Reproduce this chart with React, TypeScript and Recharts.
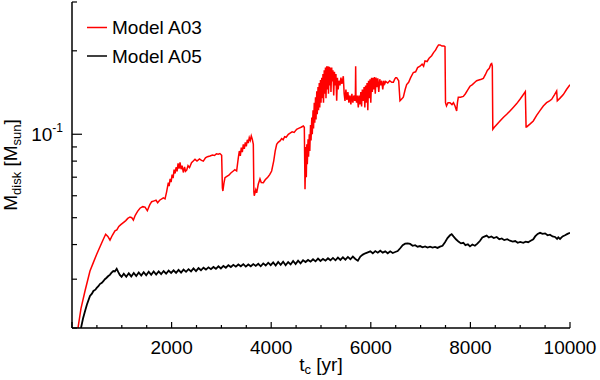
import React from 'react';
import { LineChart, Line, XAxis, YAxis } from 'recharts';

// disk mass vs time, pairs of [t_c (yr), M_disk (M_sun)]
const modelA03: [number, number][] = [
  [120, 0.020], [180, 0.0235], [261, 0.0272], [361, 0.0321], [430, 0.0345], [496, 0.0369],
  [560, 0.0392], [629, 0.0418], [676, 0.0436], [720, 0.0428], [763, 0.0415], [810, 0.0432],
  [863, 0.0448], [900, 0.0452], [940, 0.0465], [980, 0.0472], [1031, 0.048], [1080, 0.0488],
  [1120, 0.0497], [1165, 0.0503], [1200, 0.05], [1232, 0.049], [1270, 0.051], [1320, 0.0528],
  [1365, 0.0541], [1420, 0.0548], [1466, 0.0546], [1513, 0.053], [1560, 0.0556], [1600, 0.0571],
  [1650, 0.0575], [1687, 0.0578], [1720, 0.0566], [1760, 0.0578], [1834, 0.059], [1868, 0.0585],
  [1900, 0.062], [1934, 0.0669], [1950, 0.065], [1970, 0.069], [1990, 0.0672], [2010, 0.0715],
  [2030, 0.0695], [2050, 0.0745], [2070, 0.0722], [2090, 0.076], [2110, 0.0735], [2130, 0.0785],
  [2150, 0.0752], [2169, 0.0792], [2190, 0.0748], [2210, 0.077], [2236, 0.0728], [2260, 0.0762],
  [2280, 0.0735], [2303, 0.0742], [2330, 0.077], [2360, 0.0758], [2400, 0.079], [2440, 0.0802],
  [2470, 0.0812], [2510, 0.08], [2560, 0.0815], [2600, 0.0805], [2637, 0.08], [2680, 0.0822],
  [2720, 0.083], [2771, 0.0835], [2820, 0.0842], [2860, 0.0838], [2900, 0.085], [2938, 0.0847],
  [2970, 0.0852], [3005, 0.084], [3020, 0.064], [3030, 0.0624], [3050, 0.0665], [3072, 0.0697],
  [3110, 0.0705], [3150, 0.0712], [3190, 0.0725], [3239, 0.0737], [3270, 0.0745], [3306, 0.0737],
  [3340, 0.0823], [3360, 0.087], [3380, 0.0835], [3400, 0.0895], [3420, 0.0862], [3440, 0.092],
  [3460, 0.0885], [3480, 0.0935], [3500, 0.0905], [3520, 0.0955], [3540, 0.093], [3560, 0.0972],
  [3580, 0.095], [3600, 0.0986], [3620, 0.096], [3641, 0.092], [3652, 0.062], [3660, 0.06],
  [3690, 0.063], [3708, 0.0615], [3740, 0.066], [3775, 0.069], [3800, 0.067], [3842, 0.0669],
  [3880, 0.0685], [3930, 0.07], [3970, 0.0715], [4009, 0.0737], [4050, 0.08], [4080, 0.087],
  [4110, 0.092], [4140, 0.0935], [4177, 0.0946], [4210, 0.0965], [4240, 0.0955], [4270, 0.098],
  [4300, 0.0975], [4344, 0.1], [4380, 0.101], [4420, 0.102], [4460, 0.1015], [4511, 0.1042],
  [4560, 0.1052], [4600, 0.106], [4645, 0.1071], [4665, 0.106], [4679, 0.0633], [4695, 0.09],
  [4705, 0.07], [4715, 0.092], [4725, 0.078], [4740, 0.096], [4750, 0.083], [4765, 0.1],
  [4775, 0.087], [4790, 0.108], [4800, 0.095], [4815, 0.115], [4825, 0.1], [4840, 0.122],
  [4850, 0.105], [4865, 0.13], [4875, 0.11], [4890, 0.136], [4900, 0.113], [4915, 0.143],
  [4925, 0.118], [4940, 0.148], [4950, 0.122], [4965, 0.153], [4975, 0.125], [4990, 0.157],
  [5000, 0.13], [5015, 0.16], [5025, 0.135], [5040, 0.165], [5050, 0.13], [5065, 0.17],
  [5075, 0.14], [5090, 0.174], [5100, 0.135], [5115, 0.176], [5125, 0.145], [5140, 0.176],
  [5150, 0.14], [5165, 0.175], [5175, 0.15], [5190, 0.174], [5200, 0.142], [5215, 0.174],
  [5225, 0.155], [5240, 0.17], [5255, 0.138], [5270, 0.168], [5285, 0.15], [5300, 0.165],
  [5315, 0.132], [5330, 0.16], [5345, 0.145], [5360, 0.156], [5381, 0.15], [5400, 0.16],
  [5420, 0.152], [5448, 0.162], [5465, 0.14], [5482, 0.132], [5500, 0.145], [5520, 0.133],
  [5540, 0.142], [5560, 0.13], [5582, 0.138], [5600, 0.128], [5620, 0.14], [5640, 0.13],
  [5660, 0.138], [5680, 0.132], [5690, 0.135], [5696, 0.176], [5702, 0.135], [5715, 0.13],
  [5730, 0.138], [5749, 0.125], [5765, 0.138], [5780, 0.128], [5800, 0.142], [5815, 0.126],
  [5830, 0.145], [5850, 0.132], [5865, 0.148], [5880, 0.125], [5895, 0.15], [5910, 0.13],
  [5925, 0.153], [5940, 0.122], [5955, 0.156], [5970, 0.135], [5985, 0.158], [6000, 0.13],
  [6015, 0.16], [6030, 0.142], [6045, 0.16], [6060, 0.145], [6075, 0.161], [6090, 0.14],
  [6105, 0.16], [6120, 0.148], [6140, 0.159], [6160, 0.142], [6180, 0.158], [6200, 0.15],
  [6220, 0.156], [6240, 0.145], [6260, 0.156], [6280, 0.152], [6300, 0.155], [6340, 0.153],
  [6380, 0.156], [6420, 0.154], [6453, 0.154], [6480, 0.158], [6500, 0.16], [6520, 0.16],
  [6560, 0.156], [6586, 0.132], [6620, 0.134], [6653, 0.136], [6690, 0.145], [6720, 0.151],
  [6760, 0.154], [6800, 0.16], [6854, 0.167], [6900, 0.168], [6940, 0.174], [6988, 0.176],
  [7030, 0.179], [7060, 0.176], [7088, 0.184], [7130, 0.183], [7170, 0.188], [7222, 0.192],
  [7260, 0.197], [7300, 0.201], [7323, 0.205], [7360, 0.21], [7390, 0.21], [7430, 0.208],
  [7470, 0.208], [7490, 0.207], [7500, 0.13], [7520, 0.1265], [7550, 0.13], [7590, 0.13],
  [7630, 0.128], [7660, 0.13], [7691, 0.1265], [7724, 0.1214], [7740, 0.13], [7757, 0.136],
  [7800, 0.136], [7858, 0.137], [7900, 0.14], [7950, 0.145], [7992, 0.149], [8040, 0.151],
  [8090, 0.154], [8126, 0.156], [8170, 0.157], [8220, 0.158], [8260, 0.159], [8300, 0.164],
  [8340, 0.17], [8380, 0.173], [8410, 0.179], [8427, 0.18], [8440, 0.176], [8450, 0.1042],
  [8480, 0.106], [8540, 0.109], [8594, 0.1117], [8660, 0.115], [8730, 0.118], [8795, 0.1214],
  [8860, 0.125], [8930, 0.129], [8996, 0.1337], [9050, 0.138], [9103, 0.1425], [9118, 0.1063],
  [9130, 0.1063], [9200, 0.109], [9263, 0.1117], [9330, 0.117], [9400, 0.122], [9464, 0.1265],
  [9530, 0.13], [9590, 0.132], [9632, 0.1337], [9690, 0.139], [9732, 0.1433], [9745, 0.132],
  [9800, 0.135], [9866, 0.139], [9930, 0.145], [10000, 0.151],
];

const modelA05: [number, number][] = [
  [181, 0.02], [220, 0.0216], [261, 0.023], [300, 0.0243], [361, 0.0261], [400, 0.0266],
  [430, 0.0272], [470, 0.0275], [496, 0.0279], [530, 0.0283], [560, 0.0288], [600, 0.0291],
  [629, 0.0295], [660, 0.03], [690, 0.0303], [729, 0.0308], [760, 0.0311], [790, 0.0316],
  [829, 0.0321], [860, 0.032], [897, 0.0327], [930, 0.0318], [960, 0.0311], [996, 0.0306],
  [1040, 0.0314], [1090, 0.0306], [1140, 0.0315], [1190, 0.0307], [1240, 0.0316], [1290, 0.0308],
  [1340, 0.0317], [1390, 0.0309], [1440, 0.0318], [1490, 0.031], [1540, 0.0319], [1590, 0.0311],
  [1640, 0.032], [1690, 0.0312], [1740, 0.032], [1790, 0.0313], [1840, 0.0321], [1890, 0.0314],
  [1940, 0.0322], [1990, 0.0316], [2040, 0.0323], [2090, 0.0316], [2140, 0.0324], [2190, 0.0317],
  [2240, 0.0325], [2290, 0.0319], [2340, 0.0326], [2390, 0.032], [2440, 0.0328], [2490, 0.0321],
  [2540, 0.0329], [2590, 0.0323], [2640, 0.033], [2690, 0.0325], [2740, 0.0331], [2790, 0.0326],
  [2840, 0.0332], [2890, 0.0327], [2940, 0.0334], [2990, 0.0328], [3040, 0.0335], [3090, 0.033],
  [3140, 0.0337], [3190, 0.0332], [3240, 0.0338], [3290, 0.0333], [3340, 0.0339], [3390, 0.0334],
  [3440, 0.034], [3490, 0.0333], [3540, 0.0339], [3590, 0.0334], [3640, 0.034], [3690, 0.0335],
  [3740, 0.0341], [3790, 0.0334], [3840, 0.0342], [3890, 0.0336], [3940, 0.0344], [3990, 0.0337],
  [4040, 0.0345], [4090, 0.0336], [4140, 0.0346], [4190, 0.0338], [4240, 0.0347], [4290, 0.0337],
  [4340, 0.0346], [4390, 0.0339], [4440, 0.0349], [4490, 0.034], [4540, 0.035], [4590, 0.0342],
  [4640, 0.0351], [4690, 0.0346], [4740, 0.0352], [4790, 0.0347], [4840, 0.0354], [4890, 0.0348],
  [4940, 0.0356], [4990, 0.0349], [5040, 0.0355], [5090, 0.035], [5140, 0.0357], [5190, 0.0351],
  [5240, 0.0358], [5290, 0.0351], [5340, 0.0359], [5390, 0.0352], [5440, 0.036], [5490, 0.0353],
  [5540, 0.0361], [5590, 0.0354], [5640, 0.0362], [5690, 0.0355], [5740, 0.035], [5790, 0.0362],
  [5840, 0.0368], [5890, 0.0372], [5940, 0.0375], [5990, 0.0378], [6040, 0.0372], [6090, 0.0379],
  [6140, 0.0374], [6190, 0.038], [6240, 0.0374], [6290, 0.0378], [6340, 0.0372], [6390, 0.0378],
  [6440, 0.0373], [6490, 0.0376], [6540, 0.0379], [6590, 0.0388], [6640, 0.0398], [6690, 0.0403],
  [6740, 0.0404], [6790, 0.0402], [6840, 0.0396], [6890, 0.0398], [6940, 0.0393], [6990, 0.0395],
  [7040, 0.0391], [7090, 0.0394], [7140, 0.039], [7190, 0.0393], [7240, 0.039], [7290, 0.0392],
  [7340, 0.0389], [7390, 0.0393], [7440, 0.0396], [7490, 0.0408], [7540, 0.0422], [7590, 0.0432],
  [7624, 0.0436], [7660, 0.0428], [7710, 0.0418], [7760, 0.041], [7810, 0.0404], [7858, 0.0406],
  [7900, 0.0398], [7950, 0.0401], [7992, 0.0394], [8040, 0.04], [8090, 0.0396], [8140, 0.0403],
  [8190, 0.0412], [8240, 0.0424], [8290, 0.0428], [8327, 0.0431], [8370, 0.0424], [8420, 0.0428],
  [8470, 0.0422], [8528, 0.0426], [8580, 0.0418], [8630, 0.0421], [8680, 0.0415], [8740, 0.0418],
  [8795, 0.0413], [8850, 0.041], [8900, 0.0412], [8950, 0.0406], [9000, 0.0409], [9062, 0.0406],
  [9110, 0.041], [9160, 0.0408], [9210, 0.0413], [9263, 0.0418], [9300, 0.0428], [9350, 0.0437],
  [9398, 0.0441], [9450, 0.0437], [9500, 0.0439], [9550, 0.0432], [9598, 0.0434], [9650, 0.0428],
  [9700, 0.0426], [9740, 0.0419], [9765, 0.0425], [9800, 0.0419], [9850, 0.0428], [9900, 0.0432],
  [9950, 0.0437], [10000, 0.0441],
];

const xTicks = [0, 500, 1000, 1500, 2000, 2500, 3000, 3500, 4000, 4500, 5000, 5500, 6000, 6500, 7000, 7500, 8000, 8500, 9000, 9500, 10000];
const yTicks = [0.02, 0.03, 0.04, 0.05, 0.06, 0.07, 0.08, 0.09, 0.1, 0.2, 0.3];

const FONT = '"Liberation Sans", Arial, Helvetica, sans-serif';

const a03Data = modelA03.map(([t, m]) => ({ t, m }));
const a05Data = modelA05.map(([t, m]) => ({ t, m }));

const XTick = (props: any) => {
  const { x, y, payload, side } = props;
  const v = payload.value;
  const major = v % 2000 === 0;
  const len = major ? 6 : 3;
  const dir = side === 'bottom' ? -1 : 1;
  return (
    <g>
      <line x1={x} y1={y} x2={x} y2={y + dir * len} stroke="#000" strokeWidth={1.2} />
      {side === 'bottom' && major && v > 0 && (
        <text x={x} y={y + 26} textAnchor="middle" fontSize={19} fontFamily={FONT} fill="#000">
          {v}
        </text>
      )}
    </g>
  );
};

const YTick = (props: any) => {
  const { x, y, payload, side } = props;
  const v = payload.value;
  const major = Math.abs(v - 0.1) < 1e-9;
  const len = major ? 10 : 5;
  const dir = side === 'left' ? 1 : -1;
  return (
    <g>
      <line x1={x} y1={y} x2={x + dir * len} y2={y} stroke="#000" strokeWidth={1.2} />
      {side === 'left' && major && (
        <text x={x - 9} y={y + 7} textAnchor="end" fontSize={19} fontFamily={FONT} fill="#000">
          10<tspan fontSize={12} dy={-9}>-1</tspan>
        </text>
      )}
    </g>
  );
};

const axisLine = { stroke: '#000', strokeWidth: 1.5 };

export default function App() {
  return (
    <div style={{ position: 'absolute', left: 0, top: 0, width: 600, height: 380, background: '#fff' }}>
      <LineChart width={600} height={380} margin={{ top: 2, right: 30, bottom: 0, left: 0 }}>
        <XAxis xAxisId="b" type="number" dataKey="t" domain={[0, 10000]} ticks={xTicks} interval={0}
          orientation="bottom" height={52} tickLine={false} tickSize={0} tickMargin={0}
          axisLine={axisLine} allowDataOverflow tick={<XTick side="bottom" />} />
        <XAxis xAxisId="t" type="number" dataKey="t" domain={[0, 10000]} ticks={xTicks} interval={0}
          orientation="top" height={0} tickLine={false} tickSize={0} tickMargin={0}
          axisLine={axisLine} allowDataOverflow tick={<XTick side="top" />} />
        <YAxis yAxisId="l" type="number" scale="log" domain={[0.02, 0.3]} ticks={yTicks} interval={0}
          orientation="left" width={72} tickLine={false} tickSize={0} tickMargin={0}
          axisLine={axisLine} allowDataOverflow tick={<YTick side="left" />} />
        <YAxis yAxisId="r" type="number" scale="log" domain={[0.02, 0.3]} ticks={yTicks} interval={0}
          orientation="right" width={0} tickLine={false} tickSize={0} tickMargin={0}
          axisLine={axisLine} allowDataOverflow tick={<YTick side="right" />} />
        <Line xAxisId="b" yAxisId="l" data={a05Data} dataKey="m" type="linear" dot={false}
          stroke="#000" strokeWidth={1.8} isAnimationActive={false} />
        <Line xAxisId="b" yAxisId="l" data={a03Data} dataKey="m" type="linear" dot={false}
          stroke="#ff0000" strokeWidth={1.5} isAnimationActive={false} />
      </LineChart>
      <svg width={600} height={380} style={{ position: 'absolute', left: 0, top: 0, pointerEvents: 'none' }}>
        <line x1={87} y1={27.5} x2={107} y2={27.5} stroke="#ff0000" strokeWidth={1.5} />
        <text x={112} y={34} fontSize={19} fontFamily={FONT} fill="#000">Model A03</text>
        <line x1={87} y1={56} x2={107} y2={56} stroke="#000" strokeWidth={1.5} />
        <text x={112} y={63} fontSize={19} fontFamily={FONT} fill="#000">Model A05</text>
        <text x={321} y={371} textAnchor="middle" fontSize={19} fontFamily={FONT} fill="#000">
          t<tspan fontSize={13} dy={3}>c</tspan><tspan dy={-3}> [yr]</tspan>
        </text>
        <text transform="translate(17,165) rotate(-90)" textAnchor="middle" fontSize={19} fontFamily={FONT} fill="#000">
          M<tspan fontSize={13} dy={4}>disk</tspan><tspan dy={-4}> [M</tspan>
          <tspan fontSize={13} dy={4}>sun</tspan><tspan dy={-4}>]</tspan>
        </text>
      </svg>
    </div>
  );
}
